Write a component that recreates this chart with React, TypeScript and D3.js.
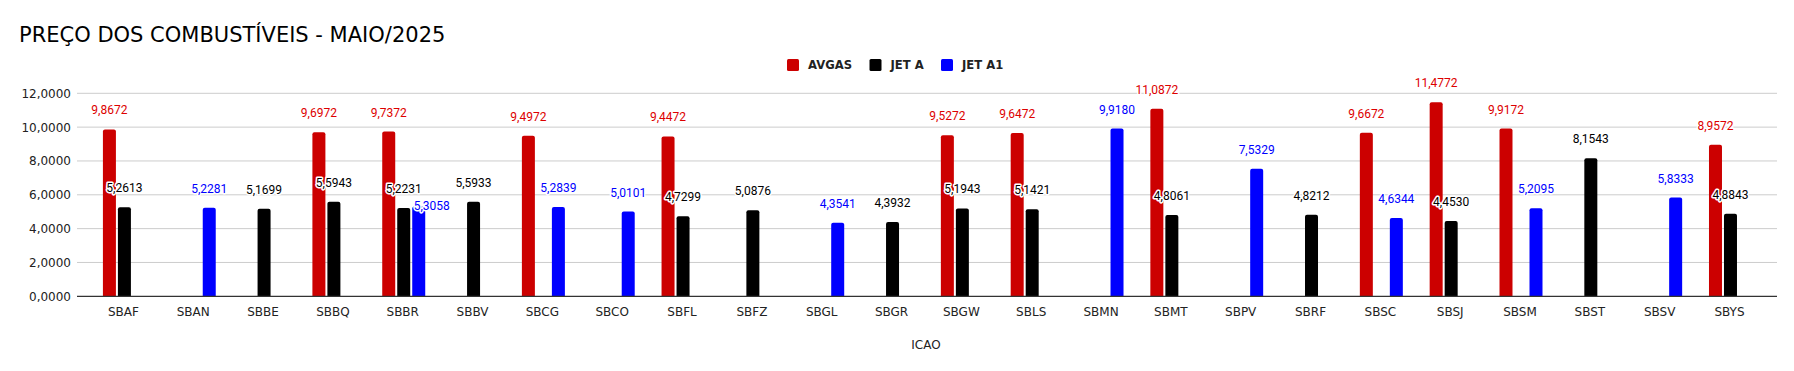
import React from "react";
import * as d3 from "d3";

// chart data
const categories = [
  "SBAF", "SBAN", "SBBE", "SBBQ", "SBBR", "SBBV", "SBCG", "SBCO", "SBFL", "SBFZ", "SBGL", "SBGR",
  "SBGW", "SBLS", "SBMN", "SBMT", "SBPV", "SBRF", "SBSC", "SBSJ", "SBSM", "SBST", "SBSV", "SBYS",
];
const avgas = [
  9.8672, null, null, 9.6972, 9.7372, null, 9.4972, null, 9.4472, null, null, null,
  9.5272, 9.6472, null, 11.0872, null, null, 9.6672, 11.4772, 9.9172, null, null, 8.9572,
];
const jetA = [
  5.2613, null, 5.1699, 5.5943, 5.2231, 5.5933, null, null, 4.7299, 5.0876, null, 4.3932,
  5.1943, 5.1421, null, 4.8061, null, 4.8212, null, 4.453, null, 8.1543, null, 4.8843,
];
const jetA1 = [
  null, 5.2281, null, null, 5.3058, null, 5.2839, 5.0101, null, null, 4.3541, null,
  null, null, 9.918, null, 7.5329, null, 4.6344, null, 5.2095, null, 5.8333, null,
];
const seriesNames = ["AVGAS", "JET A", "JET A1"];
const yTicks = [0, 2, 4, 6, 8, 10, 12];

const seriesColor: Record<string, string> = { "AVGAS": "#cc0000", "JET A": "#000000", "JET A1": "#0000ff" };
const labelColor: Record<string, string> = { "AVGAS": "#dd0000", "JET A": "#000000", "JET A1": "#0000ff" };
// annotation pushed aside to avoid an overlap (like the original)
const labelNudge: Record<string, [number, number]> = { "SBBR|JET A1": [13, 18.5] };

const W = 1794, H = 371;
const axisFont = "'DejaVu Sans', Verdana, sans-serif";
const fmt = (v: number) => v.toFixed(4).replace(".", ",");

function topRoundedBar(x: number, y: number, w: number, h: number, r: number) {
  r = Math.min(r, h, w / 2);
  return `M${x},${y + h}V${y + r}Q${x},${y} ${x + r},${y}H${x + w - r}Q${x + w},${y} ${x + w},${y + r}V${y + h}Z`;
}

export default function App() {
  const gridLeft = 77, gridRight = 1777;
  const x = d3.scaleBand().domain(categories).range([89.5, 1765.4]);
  const xInner = d3.scaleBand().domain(seriesNames).range([-21.5, 21.5]).paddingInner(2 / 15);
  const y = d3.scaleLinear().domain([0, 12]).range([296.3, 93.3]);

  const table = categories.map((c, i) => ({
    cat: c,
    values: [avgas[i], jetA[i], jetA1[i]],
  }));

  const bars: any[] = [];
  table.forEach((row) => {
    row.values.forEach((v, j) => {
      if (v == null) return;
      const s = seriesNames[j];
      const cx = (x(row.cat) as number) + x.bandwidth() / 2;
      bars.push({ cat: row.cat, s, v, x0: cx + (xInner(s) as number), w: xInner.bandwidth() });
    });
  });

  // legend layout
  const legendItems = [
    { s: "AVGAS", x: 787 },
    { s: "JET A", x: 869.5 },
    { s: "JET A1", x: 941 },
  ];

  return (
    <svg width={W} height={H} style={{ position: "absolute", left: 0, top: 0, background: "#fff" }}>
      <rect width={W} height={H} fill="#fff" />
      <text x={19} y={41.5} fontFamily={axisFont} fontSize={21} fill="#000">
        PREÇO DOS COMBUSTÍVEIS - MAIO/2025
      </text>

      {/* legend */}
      {legendItems.map((d) => (
        <g key={d.s}>
          <rect x={d.x} y={59} width={12} height={12} rx={1.5} fill={seriesColor[d.s]} />
          <text x={d.x + 21} y={69.3} fontFamily={axisFont} fontWeight="bold" fontSize={11.6} fill="#222">
            {d.s}
          </text>
        </g>
      ))}

      {/* gridlines + y ticks */}
      {yTicks.map((t) => (
        <g key={t}>
          {t !== 0 && (
            <line x1={gridLeft} x2={gridRight} y1={y(t)} y2={y(t)} stroke="#cccccc" strokeWidth={1} />
          )}
          <text x={71} y={y(t) + 4.4} textAnchor="end" fontFamily={axisFont} fontSize={12} fill="#222">
            {fmt(t)}
          </text>
        </g>
      ))}

      {/* bars */}
      {bars.map((b) => (
        <path
          key={b.cat + b.s}
          d={topRoundedBar(b.x0, y(b.v), b.w, y(0) - y(b.v), 2)}
          fill={seriesColor[b.s]}
        />
      ))}

      {/* baseline */}
      <line x1={gridLeft} x2={gridRight} y1={y(0)} y2={y(0)} stroke="#333" strokeWidth={1.3} />

      {/* category labels */}
      {categories.map((c) => (
        <text
          key={c}
          x={(x(c) as number) + x.bandwidth() / 2 - 1}
          y={315.5}
          textAnchor="middle"
          fontFamily={axisFont}
          fontSize={12}
          fill="#222"
        >
          {c}
        </text>
      ))}
      <text x={926} y={349} textAnchor="middle" fontFamily={axisFont} fontSize={12} fill="#222">
        ICAO
      </text>

      {/* value labels */}
      {bars.map((b) => {
        const n = labelNudge[b.cat + "|" + b.s] || [0, 0];
        return (
          <text
            key={"l" + b.cat + b.s}
            x={b.x0 + b.w / 2 + n[0]}
            y={y(b.v) - 15 + n[1]}
            textAnchor="middle"
            fontFamily="Roboto, sans-serif"
            fontSize={12}
            fill={labelColor[b.s]}
            stroke="#fff"
            strokeWidth={3}
            strokeLinejoin="round"
            paintOrder="stroke"
          >
            {fmt(b.v)}
          </text>
        );
      })}
    </svg>
  );
}
